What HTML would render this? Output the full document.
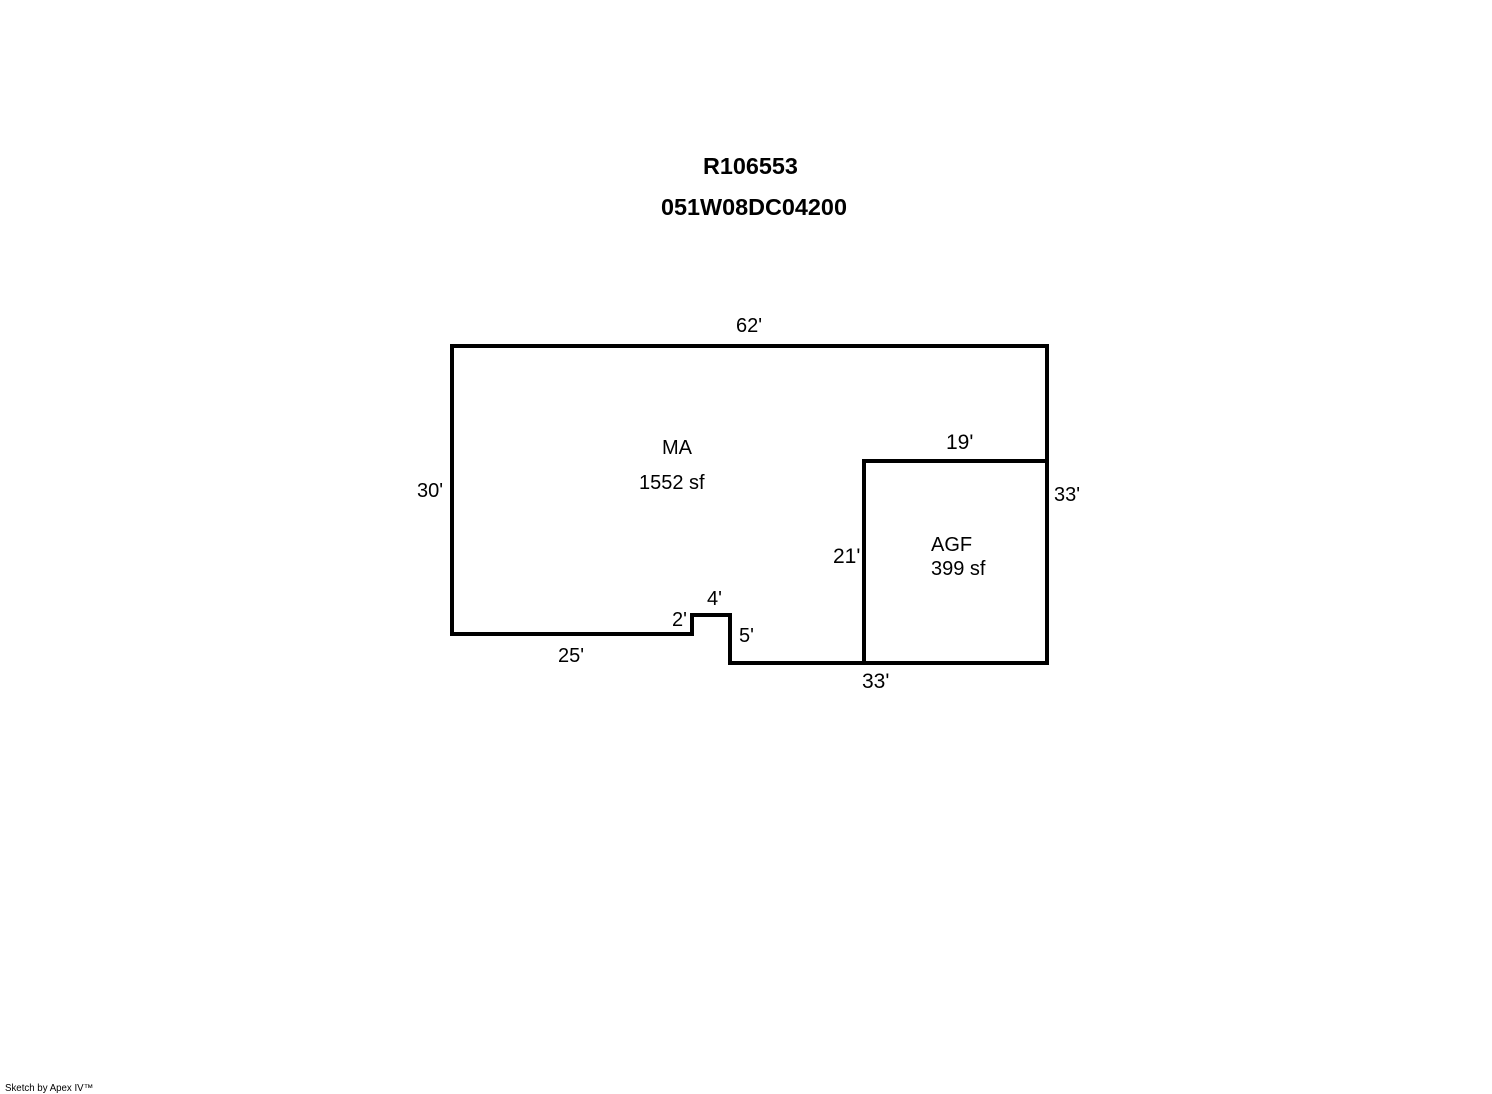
<!DOCTYPE html>
<html>
<head>
<meta charset="utf-8">
<style>
html,body{margin:0;padding:0;background:#fff;width:1492px;height:1094px;overflow:hidden}
svg{display:block}
text{font-family:"Liberation Sans",Arial,sans-serif;font-size:20px;fill:#000}
.t{font-size:23.4px;font-weight:bold}
.b{font-size:21px}
.f{font-size:9.7px}
</style>
</head>
<body>
<svg width="1492" height="1094" viewBox="0 0 1492 1094" xmlns="http://www.w3.org/2000/svg">
<rect width="1492" height="1094" fill="#fff"/>
<path d="M452 346H1047V663H730V615H692V634H452Z" fill="none" stroke="#000" stroke-width="4" stroke-linejoin="miter"/>
<path d="M1047 461H864V663" fill="none" stroke="#000" stroke-width="4" stroke-linejoin="miter"/>
<text class="t" x="703" y="174">R106553</text>
<text class="t" x="661" y="215">051W08DC04200</text>
<text x="736" y="332">62'</text>
<text x="417" y="497">30'</text>
<text x="662" y="454">MA</text>
<text x="639" y="489">1552 sf</text>
<text class="b" x="946" y="449">19'</text>
<text x="1054" y="501">33'</text>
<text class="b" x="833" y="563">21'</text>
<text x="931" y="551">AGF</text>
<text x="931" y="575">399 sf</text>
<text x="707" y="605">4'</text>
<text x="672" y="626">2'</text>
<text x="739" y="642">5'</text>
<text x="558" y="662">25'</text>
<text class="b" x="862" y="688">33'</text>
<text class="f" x="5" y="1091">Sketch by Apex IV™</text>
</svg>
</body>
</html>
